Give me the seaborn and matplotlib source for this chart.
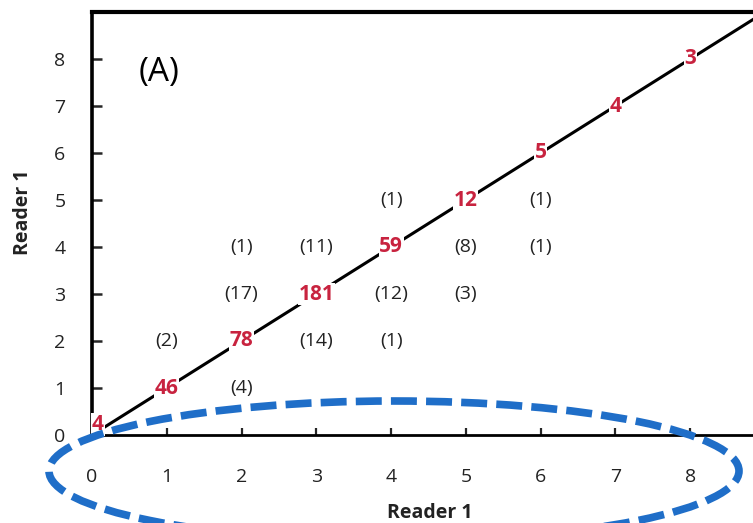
import matplotlib
matplotlib.use("Agg")
import matplotlib.pyplot as plt
from matplotlib.patches import Ellipse
import seaborn as sns
import pandas as pd

# ---- data ----
scores = [0, 1, 2, 3, 4, 5, 6, 7, 8]            # tick labels / score levels
diag_counts = [4, 46, 78, 181, 59, 12, 5, 4, 3]  # agreement counts (on identity line)

off_x = [1, 2, 2, 2, 3, 3, 4, 4, 4, 5, 5, 6, 6]
off_y = [2, 4, 3, 1, 4, 2, 5, 3, 2, 4, 3, 5, 4]
off_counts = [2, 1, 17, 4, 11, 14, 1, 12, 1, 8, 3, 1, 1]

x_label = "Reader 1"
y_label = "Reader 1"
panel_label = "(A)"

# ---- style ----
sns.set_theme(style="white")
plt.rcParams["font.family"] = ["Open Sans", "DejaVu Sans"]

RED = "#c8233f"
BLUE = "#1f6ec8"
TXT = "#222222"

fig = plt.figure(figsize=(7.53, 5.23), dpi=100)
ax = fig.add_axes([92 / 753, 1 - 435 / 523, 1 - 92 / 753, (435 - 12) / 523])

# identity line through the diagonal levels
line_df = pd.DataFrame({"x": [scores[0], scores[-1] + 1], "y": [scores[0], scores[-1] + 1]})
sns.lineplot(data=line_df, x="x", y="y", ax=ax, color="black", linewidth=2.2, zorder=2)

ax.set_xlim(0, 8.84)
ax.set_ylim(0, 9)

# diagonal counts (red, bold)
for s, n in zip(scores, diag_counts):
    if s == 0:
        ha, va = "left", "bottom"
    else:
        ha, va = "center", "center"
    ax.text(s, s, str(n), color=RED, fontsize=15, fontweight="bold", ha=ha, va=va,
            zorder=3, bbox=dict(facecolor="white", edgecolor="none", pad=0.5))

# off-diagonal counts
for xx, yy, n in zip(off_x, off_y, off_counts):
    ax.text(xx, yy, f"({n})", color=TXT, fontsize=14, ha="center", va="center", zorder=3)

ax.text(0.62, 7.72, panel_label, fontsize=24, color="black", ha="left", va="center")

# axes styling
ax.set_xticks(scores)
ax.set_yticks(scores)
ax.set_xticklabels([str(s) for s in scores])
ax.set_yticklabels([str(s) for s in scores])
ax.tick_params(axis="x", direction="in", length=5, width=1.6, pad=24, labelsize=14,
               labelcolor=TXT, bottom=True)
ax.tick_params(axis="y", direction="in", length=7, width=1.8, pad=19, labelsize=14,
               labelcolor=TXT, left=True)
for side in ["top", "left", "bottom"]:
    ax.spines[side].set_color("black")
ax.spines["top"].set_linewidth(3.0)
ax.spines["left"].set_linewidth(2.6)
ax.spines["bottom"].set_linewidth(2.0)
ax.spines["right"].set_visible(False)

ax.set_xlabel(x_label, fontsize=14, fontweight="bold", color=TXT)
ax.set_ylabel(y_label, fontsize=14, fontweight="bold", color=TXT)
ax.xaxis.label.set_va("center")
ax.yaxis.label.set_va("center")
ax.xaxis.set_label_coords((430 - 92) / 661, (435 - 513) / 423)
ax.yaxis.set_label_coords((23 - 92) / 661, (435 - 212) / 423)

# blue dashed ellipse highlighting the x axis
ell = Ellipse((394 / 753, 1 - 471 / 523), 690 / 753, 140 / 523,
              transform=fig.transFigure, fill=False, edgecolor=BLUE,
              linewidth=5.5, linestyle=(0, (3.4, 1.2)), zorder=10)
fig.add_artist(ell)

fig.savefig("out.png", dpi=100)
